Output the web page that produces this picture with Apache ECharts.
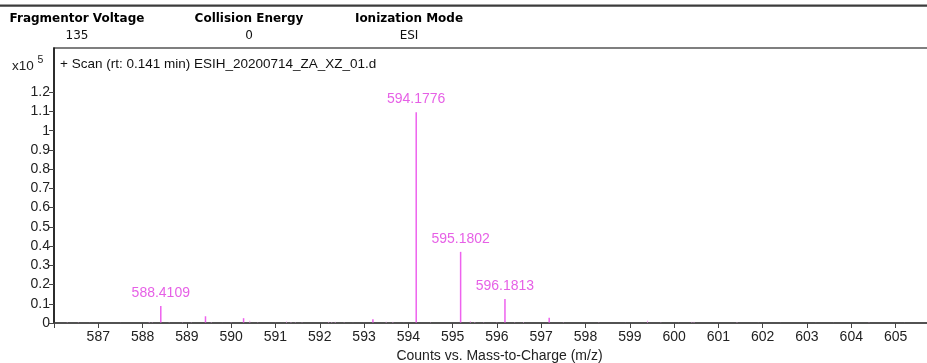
<!DOCTYPE html>
<html><head><meta charset="utf-8">
<script src="https://cdn.jsdelivr.net/npm/echarts@6/dist/echarts.min.js"></script>
<style>html,body{margin:0;padding:0;background:#fff}#c{width:927px;height:363px}</style>
</head><body><div id="c"></div>
<script>
// ---- data ----
const headerLabels = ['Fragmentor Voltage', 'Collision Energy', 'Ionization Mode'];
const headerValues = ['135', '0', 'ESI'];
const scanTitle = '+ Scan (rt: 0.141 min) ESIH_20200714_ZA_XZ_01.d';
const xTitle = 'Counts vs. Mass-to-Charge (m/z)';
const xTicks = [586,587,588,589,590,591,592,593,594,595,596,597,598,599,600,601,602,603,604,605];
const xTickLabels = [587,588,589,590,591,592,593,594,595,596,597,598,599,600,601,602,603,604,605];
const yTickLabels = [0,0.1,0.2,0.3,0.4,0.5,0.6,0.7,0.8,0.9,1,1.1,1.2];
// peaks (m/z) and intensities (x10^5 counts)
const peakMz = [586.3,586.55,586.8,587.5,588.15,588.22,588.4109,588.6,588.9,589.1,589.42,589.55,589.8,590.0,590.28,590.42,590.6,591.0,591.25,591.35,591.45,591.6,592.2,592.27,592.35,592.55,592.75,593.0,593.2,593.5,593.65,593.9,594.1776,594.5,595.1802,595.4,595.5,595.7,596.0,596.1813,596.4,596.6,597.18,597.5,598.3,598.9,599.4,599.7,600.1,600.4,600.45,601.0,601.42,601.9,602.4,603.2,603.6,604.4,605.2];
const peakInt = [0.004,0.004,0.003,0.003,0.005,0.004,0.088,0.004,0.004,0.004,0.035,0.005,0.003,0.004,0.025,0.012,0.004,0.003,0.008,0.005,0.004,0.004,0.006,0.005,0.006,0.004,0.003,0.003,0.020,0.007,0.006,0.003,1.096,0.004,0.370,0.010,0.005,0.004,0.004,0.125,0.004,0.005,0.027,0.004,0.004,0.003,0.012,0.004,0.003,0.006,0.006,0.003,0.005,0.003,0.003,0.003,0.003,0.004,0.003];
const labeledMz = [588.4109, 594.1776, 595.1802, 596.1813];
const labeledInt = [0.088, 1.096, 0.370, 0.125];

const chart = echarts.init(document.getElementById('c'), null, {renderer:'canvas'});
const FONT = 'Liberation Sans, Arial, sans-serif';
const headerX = [77, 249, 409];
const graphics = [
  {type:'rect', shape:{x:0,y:4.5,width:927,height:2.2}, style:{fill:'#3c3c3c'}, silent:true},
];
headerLabels.forEach((t,i)=>{
  graphics.push({type:'text', x:headerX[i], y:19, style:{text:t, fill:'#000', font:'bold 12px DejaVu Sans, Verdana, sans-serif', align:'center', verticalAlign:'middle'}});
  graphics.push({type:'text', x:headerX[i], y:36, style:{text:headerValues[i], fill:'#111', font:'12px DejaVu Sans, Verdana, sans-serif', align:'center', verticalAlign:'middle'}});
});
graphics.push({type:'text', x:12, y:64, style:{text:'{a|x10 }{b|5}', rich:{a:{font:'13.5px '+FONT, fill:'#222', verticalAlign:'bottom'}, b:{font:'10.5px '+FONT, fill:'#222', padding:[0,0,7,0]}}, verticalAlign:'middle'}});
graphics.push({type:'text', x:60, y:64, style:{text:scanTitle, fill:'#111', font:'13.5px '+FONT, verticalAlign:'middle'}});

const fmtNum = v => String(Math.round(v*10)/10);

chart.setOption({
  animation:false,
  graphic: graphics,
  grid:{left:54, right:-4, top:48, bottom:40, show:true, borderColor:'#555', borderWidth:1.5, backgroundColor:'transparent', outerBoundsMode:'none', containLabel:false},
  xAxis:{
    type:'value', min:586, max:605.8,
    axisLine:{show:true, onZero:false, lineStyle:{color:'#444', width:1.5}},
    axisTick:{show:true, length:5, lineStyle:{color:'#444'}, customValues:xTicks},
    axisLabel:{color:'#222', fontFamily:FONT, fontSize:14, margin:7, customValues:xTickLabels, formatter:v=>fmtNum(v)},
    splitLine:{show:false},
    name:xTitle, nameLocation:'middle', nameGap:25,
    nameTextStyle:{color:'#222', fontFamily:FONT, fontSize:14, padding:[0,0,0,14]}
  },
  yAxis:{
    type:'value', min:0, max:1.43,
    axisLine:{show:true, lineStyle:{color:'#111', width:1.5}},
    axisTick:{show:true, length:5, lineStyle:{color:'#444'}, customValues:yTickLabels},
    axisLabel:{color:'#222', fontFamily:FONT, fontSize:14, margin:4, customValues:yTickLabels, formatter:v=>fmtNum(v)},
    splitLine:{show:false}
  },
  series:[
    {
      type:'custom', coordinateSystem:'cartesian2d', clip:true,
      data: peakMz.map((m,i)=>[m, peakInt[i]]),
      renderItem:(params, api)=>{
        const top = api.coord([api.value(0), api.value(1)]);
        const base = api.coord([api.value(0), 0]);
        const big = api.value(1) > 0.015;
        return {type:'line', shape:{x1:top[0], y1:top[1], x2:base[0], y2:base[1]-0.5},
          style:{stroke: big ? '#ee62ee' : '#f5a3f5', lineWidth: big ? 1.5 : 1}};
      },
      z:3
    },
    {
      type:'scatter', symbolSize:0,
      data: labeledMz.map((m,i)=>[m, labeledInt[i]]),
      label:{show:true, position:'top', distance:6, color:'#e038e0', fontFamily:FONT, fontSize:14,
        formatter:p=>p.value[0].toFixed(4)},
      z:4
    }
  ]
});
</script></body></html>
